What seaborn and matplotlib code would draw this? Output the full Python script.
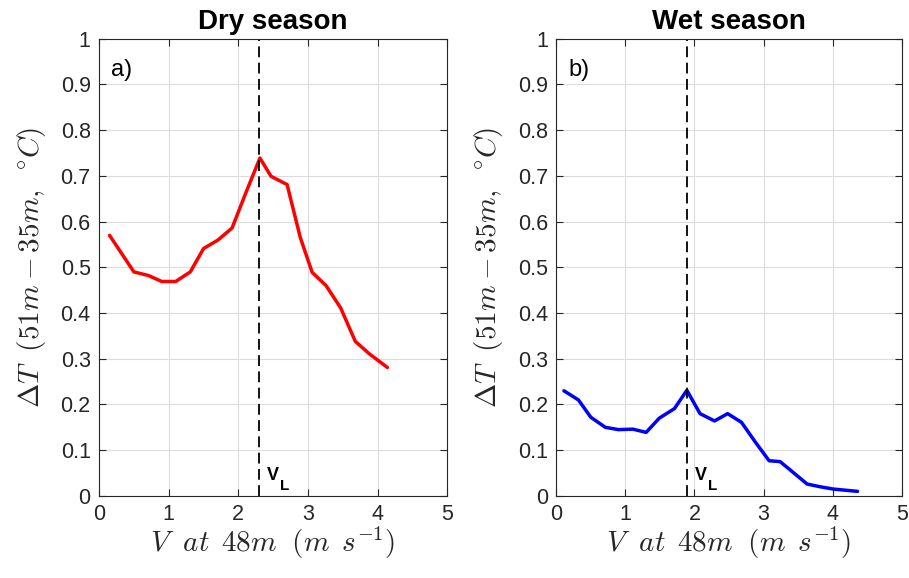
import numpy as np
import pandas as pd
import matplotlib
matplotlib.use("Agg")
import matplotlib.pyplot as plt
import seaborn as sns

# Dry season
dry_v = [0.15, 0.50, 0.71, 0.90, 1.10, 1.31, 1.50, 1.71, 1.91, 2.10, 2.31, 2.47, 2.70, 2.89, 3.06, 3.26, 3.47, 3.68, 3.88, 4.14]
dry_dt = [0.570, 0.490, 0.482, 0.469, 0.469, 0.490, 0.541, 0.560, 0.586, 0.660, 0.739, 0.699, 0.681, 0.565, 0.489, 0.460, 0.411, 0.338, 0.311, 0.281]
dry_vl = 2.30

# Wet season
wet_v = [0.11, 0.32, 0.50, 0.71, 0.90, 1.11, 1.30, 1.49, 1.71, 1.89, 2.08, 2.29, 2.48, 2.68, 2.88, 3.08, 3.24, 3.44, 3.63, 3.82, 4.01, 4.36]
wet_dt = [0.230, 0.210, 0.172, 0.150, 0.145, 0.146, 0.139, 0.170, 0.191, 0.231, 0.180, 0.164, 0.180, 0.161, 0.118, 0.077, 0.075, 0.050, 0.026, 0.020, 0.015, 0.010]
wet_vl = 1.89

titles = ["Dry season", "Wet season"]
panel_labels = ["a)", "b)"]
colors = ["#ff0000", "#0000ff"]

sns.set_theme(style="whitegrid")
plt.rcParams['font.family'] = ['Liberation Sans', 'DejaVu Sans']
plt.rcParams['mathtext.fontset'] = 'cm'

fig = plt.figure(figsize=(9.09, 5.78), dpi=100)
ax1 = fig.add_axes([0.109, 0.142, 0.383, 0.791])
ax2 = fig.add_axes([0.612, 0.142, 0.380, 0.791])

datasets = [(dry_v, dry_dt, dry_vl), (wet_v, wet_dt, wet_vl)]

for i, (ax, (v, dt, vl)) in enumerate(zip([ax1, ax2], datasets)):
    df = pd.DataFrame({"V": v, "dT": dt})
    sns.lineplot(data=df, x="V", y="dT", ax=ax, color=colors[i], linewidth=2.5, sort=False)
    ax.axvline(vl, color="black", linestyle=(0, (6, 3)), linewidth=1.3)
    # V_L marker label
    ax.text(vl + 0.11, 0.035, "V", fontsize=13, fontweight="bold", va="baseline", color="black")
    ax.text(vl + 0.30, 0.012, "L", fontsize=11, fontweight="bold", va="baseline", color="black")
    ax.text(0.035, 0.955, panel_labels[i], transform=ax.transAxes, fontsize=17,
            va="top", ha="left", color="black")

    ax.set_xlim(0, 5)
    ax.set_ylim(0, 1)
    ax.set_xticks(range(0, 6))
    ax.set_yticks(np.round(np.arange(0, 1.01, 0.1), 1))
    ax.set_yticklabels(["0"] + [f"{t:.1f}" for t in np.arange(0.1, 0.95, 0.1)] + ["1"])
    ax.set_facecolor("white")
    ax.grid(True, color="#dcdcdc", linewidth=0.8)
    for s in ax.spines.values():
        s.set_visible(True)
        s.set_color("#262626")
        s.set_linewidth(0.8)
    ax.tick_params(direction="in", length=5, width=0.8, color="#262626",
                   labelsize=15.5, labelcolor="#262626", top=True, right=True,
                   bottom=True, left=True, pad=6)
    ax.set_title(titles[i], fontsize=20, fontweight="bold", pad=7, color="black")
    ax.set_xlabel(r"$V\;\ at\ \,48m\;\ (m\ \,s^{-1})$", fontsize=21, color="#262626", labelpad=0)
    ax.set_ylabel(r"$\Delta T\;\ (51m - 35m,\ \,^{\circ}C)$", fontsize=21, color="#262626", labelpad=9)

fig.savefig("out.png", dpi=100)
